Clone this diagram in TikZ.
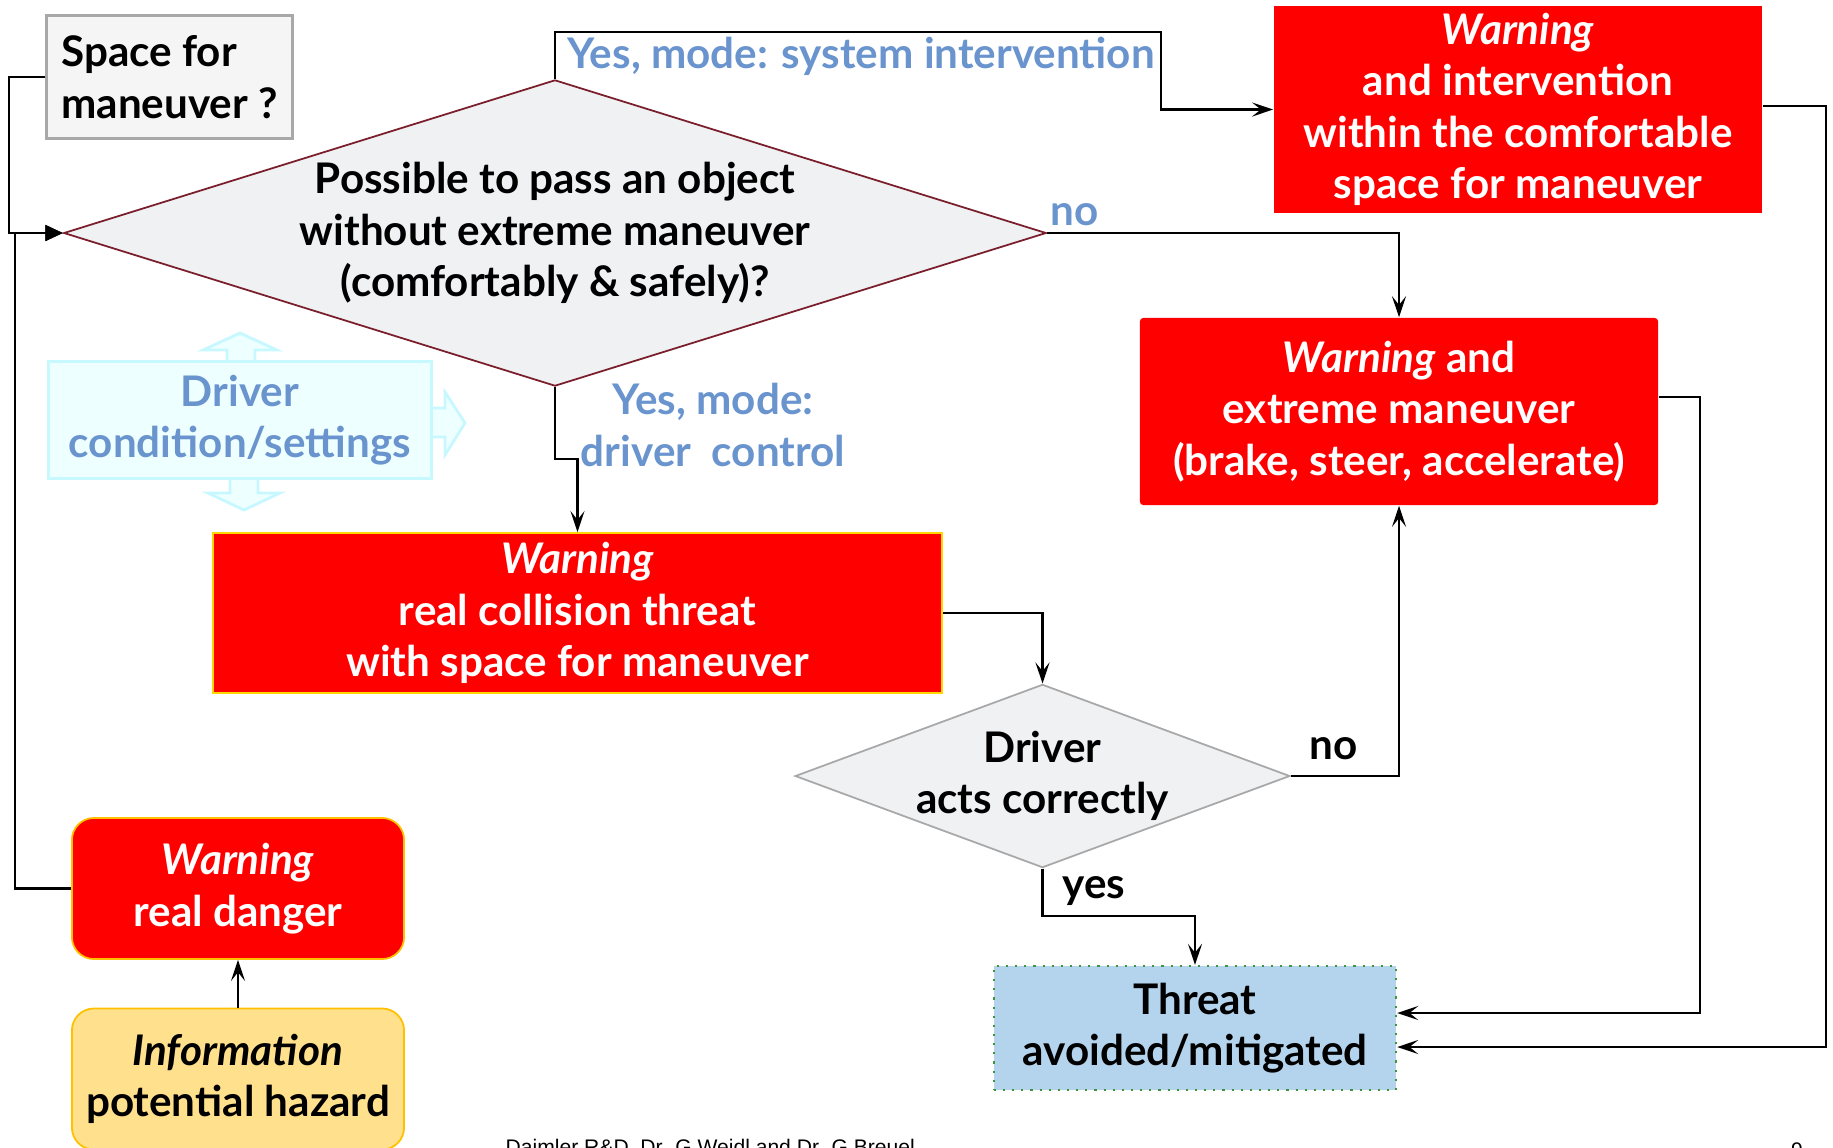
\documentclass[tikz,border=0pt]{standalone}
\usepackage{fontspec}
\setmainfont{Lato}
\newfontfamily\footfont{Liberation Sans}
\usetikzlibrary{shapes.geometric,arrows.meta}
\definecolor{warnred}{RGB}{255,0,0}
\definecolor{lblblue}{RGB}{106,148,206}
\definecolor{dmdfill}{RGB}{240,241,243}
\definecolor{dmdline}{RGB}{122,30,44}
\definecolor{gold}{RGB}{255,192,0}
\definecolor{infofill}{RGB}{255,224,140}
\definecolor{threatfill}{RGB}{180,211,237}
\definecolor{threatline}{RGB}{60,150,60}
\definecolor{cyanfill}{RGB}{238,255,255}
\definecolor{cyanline}{RGB}{200,248,255}
\definecolor{spacefill}{RGB}{245,245,245}
\definecolor{spaceline}{RGB}{168,168,168}
\tikzset{
  txt/.style={font=\bfseries\fontsize{12}{14.6}\selectfont, align=center, inner sep=0pt},
  warnbox/.style={txt, rectangle, fill=warnred, text=white},
  roundbox/.style={txt, rectangle, rounded corners=0.22cm, draw=gold, line width=0.5pt,
    minimum width=3.32cm, minimum height=1.41cm},
  choice/.style={txt, diamond, fill=dmdfill, line width=0.5pt},
  lbl/.style={txt, text=lblblue},
  yn/.style={txt},
  arr/.style={-{Stealth[length=6pt,width=4pt,inset=2.5pt]}, line width=0.6pt},
  cyanarrow/.style={fill=cyanfill, draw=cyanline, line width=0.8pt, line join=miter}
}
\begin{document}
\begin{tikzpicture}[x=0.01cm, y=-0.01cm]
\useasboundingbox (0,0) rectangle (1833,1147);
\clip (0,0) rectangle (1833,1147);
% bend points
\coordinate (lx1) at (9,0);
\coordinate (lx2) at (15,0);
\coordinate (sysbend) at (1161,32);
\coordinate (drvbend) at (555,459);
\coordinate (yesbend) at (1043,916);
\coordinate (exbend) at (1700,1013);
\coordinate (inbend) at (1826,1047);

% driver condition
\draw[cyanarrow] (240,333) -- (277,350) -- (255,350) -- (255,364) -- (227,364) -- (227,350) -- (203,350) -- cycle;
\draw[cyanarrow] (244,510) -- (280,493) -- (258,493) -- (258,476) -- (230,476) -- (230,493) -- (208,493) -- cycle;
\draw[cyanarrow] (465,423) -- (445,455) -- (445,437) -- (429,437) -- (429,408) -- (445,408) -- (445,392) -- cycle;
\node[lbl, rectangle, fill=cyanfill, draw=cyanline, line width=0.85pt, minimum width=3.82cm, minimum height=1.16cm] (drvcond) at (240,420) {Driver\\condition/settings};

% boxes
\node[txt, rectangle, fill=spacefill, draw=spaceline, line width=0.85pt, align=left, minimum width=2.45cm, minimum height=1.22cm] (space) at (169.5,77) {Space for\\maneuver ?};
\node[choice, draw=dmdline, minimum width=9.82cm, minimum height=3.06cm, shape aspect=3.21] (pass) at (555,233) {Possible to pass an object\\without extreme maneuver\\(comfortably \& safely)?};
\node[warnbox, minimum width=4.88cm, minimum height=2.07cm] (interv) at (1518,109.5) {\textit{Warning}\\and intervention\\within the comfortable\\space for maneuver};
\node[warnbox, rounded corners=1pt, minimum width=5.18cm, minimum height=1.87cm] (extreme) at (1399,411.5) {\textit{Warning} and\\extreme maneuver\\(brake, steer, accelerate)};
\node[warnbox, draw={rgb,255:red,255;green,215;blue,0}, line width=0.5pt, minimum width=7.29cm, minimum height=1.60cm] (collision) at (577.5,613) {\textit{Warning}\\real collision threat\\with space for maneuver};
\node[choice, draw=spaceline, minimum width=4.91cm, minimum height=1.82cm, shape aspect=2.7] (act) at (1042.5,776) {Driver\\acts correctly};
\node[txt, rectangle, fill=threatfill, draw=threatline, dotted, line width=0.6pt, minimum width=4.02cm, minimum height=1.24cm] (threat) at (1195,1028) {Threat\\avoided/mitigated};
\node[roundbox, fill=warnred, text=white] (danger) at (238,888.5) {\textit{Warning}\\real danger};
\node[roundbox, fill=infofill] (info) at (238,1079) {\textit{Information}\\potential hazard};

% labels
\node[lbl] (lsys) at (861,56) {Yes, mode: system intervention};
\node[lbl] (lno) at (1075,215) {no};
\node[lbl] (ldrv) at (713,425) {Yes, mode:\\driver\ \ control};
\node[yn] (lactno) at (1334,749) {no};
\node[yn] (lactyes) at (1094,891) {yes};

% connectors
\draw[line width=0.6pt, -{Triangle[length=5pt,width=4.5pt]}] (space.west) -- (space.west -| lx1) |- (pass.west);
\draw[line width=0.6pt, -{Triangle[length=5pt,width=4.5pt]}] (danger.west) -- (danger.west -| lx2) |- (pass.west);
\draw[arr] (pass.north) |- (sysbend) |- (interv.west);
\draw[arr] (pass.east) -| (extreme.north);
\draw[arr] (pass.south) |- (drvbend) -| (collision.north);
\draw[arr] (collision.east) -| (act.north);
\draw[arr] (act.east) -| (extreme.south);
\draw[arr] (act.south) |- (yesbend) -| (threat.north);
\draw[arr] ([yshift=1.45mm]extreme.east) -| (exbend) -- (exbend -| threat.east);
\draw[arr] ([yshift=0.35mm]interv.east) -| (inbend) -- (inbend -| threat.east);
\draw[arr] (info.north) -- (danger.south);

% footer
\node[font=\footfont\fontsize{6}{7}\selectfont, anchor=base west, inner sep=0pt] (credit) at (505,1154) {Daimler R\&D, Dr. G.Weidl and Dr. G.Breuel};
\node[font=\footfont\fontsize{6}{7}\selectfont, anchor=base, inner sep=0pt] (pageno) at (1797,1157) {9};
\end{tikzpicture}
\end{document}
